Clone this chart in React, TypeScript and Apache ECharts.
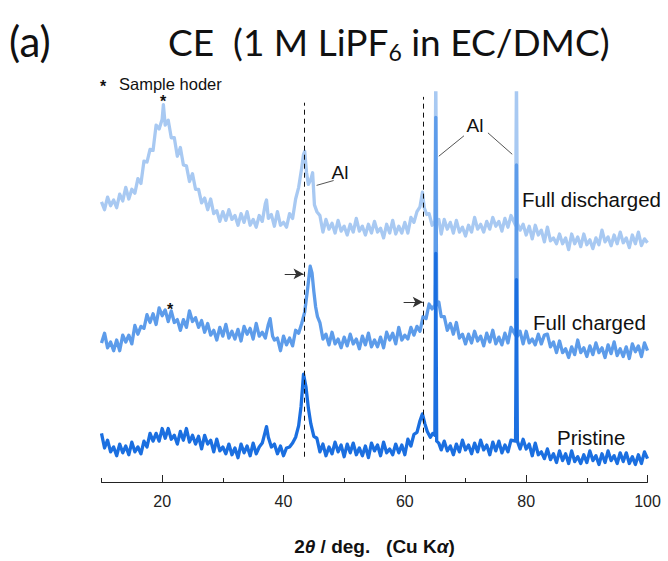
import React, { useEffect, useRef } from "react";
import * as echarts from "echarts";

// 2θ (deg) vs. intensity (arbitrary offset units, traces stacked)
const fullDischarged: [number, number][] = [
  [10, 288], [10.5, 280], [11, 293], [11.5, 284], [12, 290], [12.5, 282], [13, 296], [13.5, 289], [14, 303], [14.5, 291],
  [15, 301], [15.5, 297], [16, 312], [16.5, 307], [17, 330], [17.5, 329], [18, 342], [18.5, 341], [19, 367], [19.5, 363],
  [20, 373], [20.2, 388], [20.5, 367], [21, 372], [21.5, 354], [22, 354], [22.5, 335], [23, 344], [23.5, 326], [24, 325],
  [24.5, 309], [25, 317], [25.5, 301], [26, 301], [26.5, 287], [27, 292], [27.5, 280], [28, 291], [28.5, 276], [29, 279],
  [29.5, 268], [30, 278], [30.5, 269], [31, 280], [31.5, 270], [32, 274], [32.5, 264], [33, 276], [33.5, 267], [34, 278],
  [34.5, 264], [35, 270], [35.5, 262], [36, 274], [36.5, 268], [37, 286], [37.2, 290], [37.5, 271], [38, 275], [38.5, 263],
  [39, 278], [39.5, 264], [40, 267], [40.5, 262], [41, 276], [41.5, 271], [42, 291], [42.5, 303], [43, 323], [43.3, 337],
  [43.5, 340], [43.8, 318], [44.1, 306], [44.5, 311], [44.8, 318], [45.1, 285], [45.5, 278], [46, 274], [46.5, 257], [47, 270],
  [47.5, 260], [48, 266], [48.5, 256], [49, 269], [49.5, 258], [50, 263], [50.5, 254], [51, 265], [51.5, 257], [52, 271],
  [52.5, 258], [53, 263], [53.5, 254], [54, 265], [54.5, 256], [55, 268], [55.5, 257], [56, 261], [56.5, 251], [57, 265],
  [57.5, 256], [58, 269], [58.5, 255], [59, 263], [59.5, 256], [60, 267], [60.5, 256], [61, 272], [61.5, 267], [62, 278],
  [62.5, 283], [62.9, 298], [63.2, 282], [63.6, 275], [64, 276], [64.5, 264], [64.95, 268], [65.1, 420], [65.25, 268], [65.6, 270],
  [66, 255], [66.5, 270], [67, 260], [67.5, 267], [68, 256], [68.5, 269], [69, 257], [69.5, 262], [70, 253], [70.5, 264],
  [71, 257], [71.5, 272], [72, 260], [72.5, 265], [73, 257], [73.5, 268], [74, 260], [74.5, 272], [75, 263], [75.5, 268],
  [76, 258], [76.5, 271], [77, 262], [77.5, 274], [78.25, 264], [78.4, 420], [78.55, 266], [79, 259], [79.5, 265], [80, 254],
  [80.5, 263], [81, 250], [81.5, 264], [82, 254], [82.5, 259], [83, 247], [83.5, 262], [84, 248], [84.5, 251], [85, 245],
  [85.5, 255], [86, 245], [86.5, 251], [87, 239], [87.5, 255], [88, 245], [88.5, 252], [89, 242], [89.5, 255], [90, 244],
  [90.5, 249], [91, 240], [91.5, 251], [92, 244], [92.5, 259], [93, 247], [93.5, 252], [94, 243], [94.5, 254], [95, 245],
  [95.5, 257], [96, 246], [96.5, 251], [97, 241], [97.5, 254], [98, 245], [98.5, 257], [99, 243], [99.5, 250], [100, 246],
];

const fullCharged: [number, number][] = [
  [10, 143], [10.5, 153], [11, 138], [11.5, 144], [12, 135], [12.5, 146], [13, 135], [13.5, 151], [14, 144], [14.5, 151],
  [15, 142], [15.5, 161], [16, 152], [16.5, 160], [17, 158], [17.5, 172], [18, 164], [18.5, 173], [19, 162], [19.5, 179],
  [20, 171], [20.5, 177], [21, 165], [21.5, 176], [22, 164], [22.5, 167], [23, 156], [23.5, 167], [24, 159], [24.5, 176],
  [25, 165], [25.5, 169], [26, 159], [26.5, 166], [27, 154], [27.5, 163], [28, 151], [28.5, 156], [29, 146], [29.5, 159],
  [30, 150], [30.5, 162], [31, 148], [31.5, 155], [32, 147], [32.5, 157], [33, 145], [33.5, 160], [34, 152], [34.5, 158],
  [35, 147], [35.5, 163], [36, 150], [36.5, 154], [37, 148], [37.5, 162], [37.8, 168], [38.2, 150], [38.5, 146], [39, 148],
  [39.5, 135], [40, 150], [40.5, 141], [41, 148], [41.5, 140], [42, 156], [42.5, 153], [43, 163], [43.5, 175], [44, 200],
  [44.4, 222], [44.7, 215], [45, 196], [45.3, 180], [45.6, 170], [46, 164], [46.5, 147], [47, 152], [47.5, 141], [48, 154],
  [48.5, 142], [49, 147], [49.5, 138], [50, 149], [50.5, 140], [51, 152], [51.5, 142], [52, 147], [52.5, 137], [53, 150],
  [53.5, 141], [54, 153], [54.5, 139], [55, 146], [55.5, 139], [56, 149], [56.5, 138], [57, 154], [57.5, 146], [58, 153],
  [58.5, 142], [59, 159], [59.5, 146], [60, 151], [60.5, 147], [61, 159], [61.5, 151], [62, 160], [62.5, 155], [63, 170],
  [63.5, 168], [64, 183], [64.5, 178], [64.95, 182], [65.1, 375], [65.25, 182], [65.6, 185], [66, 170], [66.5, 170], [67, 156],
  [67.5, 163], [68, 152], [68.5, 164], [69, 148], [69.5, 152], [70, 142], [70.5, 152], [71, 143], [71.5, 155], [72, 145],
  [72.5, 150], [73, 140], [73.5, 153], [74, 144], [74.5, 156], [75, 142], [75.5, 149], [76, 141], [76.5, 153], [77, 143],
  [77.5, 159], [78.25, 151], [78.4, 326], [78.55, 150], [79, 155], [79.5, 142], [80, 155], [80.5, 143], [81, 147], [81.5, 141],
  [82, 152], [82.5, 142], [83, 151], [83.5, 152], [84, 139], [84.5, 144], [85, 133], [85.5, 145], [86, 133], [86.5, 137],
  [87, 128], [87.5, 139], [88, 131], [88.5, 146], [89, 133], [89.5, 138], [90, 129], [90.5, 140], [91, 131], [91.5, 143],
  [92, 133], [92.5, 138], [93, 128], [93.5, 141], [94, 132], [94.5, 144], [95, 130], [95.5, 137], [96, 129], [96.5, 139],
  [97, 127], [97.5, 142], [98, 134], [98.5, 140], [99, 129], [99.5, 143], [100, 135],
];

const pristine: [number, number][] = [
  [10, 50], [10.5, 35], [11, 43], [11.5, 31], [12, 36], [12.5, 27], [13, 39], [13.5, 30], [14, 37], [14.5, 28],
  [15, 41], [15.5, 31], [16, 36], [16.5, 29], [17, 42], [17.5, 36], [18, 50], [18.5, 42], [19, 50], [19.5, 42],
  [20, 55], [20.5, 45], [21, 55], [21.5, 44], [22, 48], [22.5, 39], [23, 52], [23.5, 43], [24, 55], [24.5, 41],
  [25, 48], [25.5, 39], [26, 47], [26.5, 34], [27, 48], [27.5, 39], [28, 43], [28.5, 31], [29, 44], [29.5, 32],
  [30, 36], [30.5, 29], [31, 39], [31.5, 28], [32, 35], [32.5, 25], [33, 39], [33.5, 30], [34, 37], [34.5, 27],
  [35, 40], [35.5, 29], [36, 36], [36.5, 40], [37, 52], [37.2, 57], [37.5, 46], [38, 36], [38.5, 39], [39, 29],
  [39.5, 37], [40, 27], [40.5, 35], [41, 36], [41.5, 40], [42, 46], [42.5, 58], [42.9, 78], [43.3, 111], [43.7, 98],
  [44.1, 76], [44.5, 60], [45, 47], [45.5, 45], [46, 31], [46.5, 39], [47, 27], [47.5, 36], [48, 29], [48.5, 41],
  [49, 31], [49.5, 38], [50, 26], [50.5, 39], [51, 30], [51.5, 40], [52, 28], [52.5, 35], [53, 27], [53.5, 37],
  [54, 25], [54.5, 40], [55, 32], [55.5, 38], [56, 27], [56.5, 41], [57, 30], [57.5, 34], [58, 28], [58.5, 39],
  [59, 30], [59.5, 38], [60, 28], [60.5, 44], [61, 37], [61.5, 49], [62, 51], [62.5, 63], [62.9, 70], [63.3, 60],
  [63.7, 52], [64.2, 46], [64.6, 50], [64.95, 48], [65.1, 235], [65.25, 42], [65.6, 40], [66, 33], [66.5, 42], [67, 32],
  [67.5, 37], [68, 28], [68.5, 39], [69, 31], [69.5, 43], [70, 33], [70.5, 38], [71, 29], [71.5, 40], [72, 31],
  [72.5, 43], [73, 33], [73.5, 38], [74, 28], [74.5, 41], [75, 32], [75.5, 42], [76, 30], [76.5, 38], [77, 31],
  [77.5, 43], [78.25, 42], [78.4, 208], [78.55, 42], [79, 34], [79.5, 44], [80, 34], [80.5, 39], [81, 27], [81.5, 40],
  [82, 28], [82.5, 31], [83, 24], [83.5, 34], [84, 23], [84.5, 29], [85, 20], [85.5, 32], [86, 22], [86.5, 29],
  [87, 19], [87.5, 32], [88, 21], [88.5, 26], [89, 19], [89.5, 28], [90, 20], [90.5, 32], [91, 22], [91.5, 27],
  [92, 18], [92.5, 29], [93, 20], [93.5, 32], [94, 22], [94.5, 27], [95, 19], [95.5, 30], [96, 21], [96.5, 30],
  [97, 19], [97.5, 26], [98, 18], [98.5, 28], [99, 19], [99.5, 31], [100, 24],
];

const majorTicks = [20, 40, 60, 80, 100];
const minorTicks = [10, 30, 50, 70, 90];

// dashed reference lines: [2θ, y from, y to]
const dashedLines: [number, number, number][] = [
  [43.47, 26, 390],
  [63.1, 23, 396],
];
// shift arrows: [x from, x to, y]
const shiftArrows: [number, number, number][] = [
  [40.2, 43.3, 214],
  [59.8, 62.95, 185],
];
// "Al" leader lines: [x1, y1, x2, y2]
const alLeaders: [number, number, number, number][] = [
  [45.45, 305, 48.26, 310],
  [65.6, 335, 69.75, 356],
  [73.7, 359, 77.7, 337],
];

const COLORS = ["#a8c9f2", "#5d9cea", "#1b6fe0"];

export default function App() {
  const ref = useRef<HTMLDivElement>(null);

  useEffect(() => {
    if (!ref.current) return;
    const chart = echarts.init(ref.current, null, { renderer: "svg" });
    const baseFont = "Liberation Sans, Arial, sans-serif";

    const mkSeries = (name: string, data: [number, number][], color: string, extra: any = {}) => ({
      name,
      type: "line",
      data,
      showSymbol: false,
      symbol: "none",
      clip: true,
      lineStyle: { color, width: 3.3, join: "round" },
      itemStyle: { color },
      ...extra,
    });

    const markLineData: any[] = [];
    dashedLines.forEach(([x, y0, y1]) => {
      markLineData.push([
        { coord: [x, y0], symbol: "none", lineStyle: { type: [5, 4], color: "#111", width: 1 } },
        { coord: [x, y1], symbol: "none" },
      ]);
    });
    shiftArrows.forEach(([x0, x1, y]) => {
      markLineData.push([
        { coord: [x0, y], symbol: "none", lineStyle: { type: "solid", color: "#333", width: 1 } },
        { coord: [x1, y], symbol: "arrow", symbolSize: [8, 10] },
      ]);
    });
    alLeaders.forEach(([x0, y0, x1, y1]) => {
      markLineData.push([
        { coord: [x0, y0], symbol: "none", lineStyle: { type: "solid", color: "#555", width: 1 } },
        { coord: [x1, y1], symbol: "none" },
      ]);
    });

    const option: any = {
      animation: false,
      backgroundColor: "#ffffff",
      grid: { left: 101.5, right: 20.5, top: 93, bottom: 68, containLabel: false },
      xAxis: [
        {
          type: "value",
          min: 10,
          max: 100,
          interval: 10,
          splitLine: { show: false },
          axisLine: { show: true, lineStyle: { color: "#222", width: 1 } },
          axisTick: { show: true, inside: true, length: 7, lineStyle: { color: "#222", width: 1 }, customValues: majorTicks },
          axisLabel: {
            customValues: majorTicks,
            margin: 11,
            fontFamily: baseFont,
            fontSize: 16,
            color: "#222",
          },
          name: "{b|2}{i|θ}{b| / deg.   (Cu K}{i|α}{b|)}",
          nameLocation: "middle",
          nameGap: 55,
          nameTextStyle: {
            rich: {
              b: { fontFamily: baseFont, fontSize: 19, fontWeight: "bold", color: "#111" },
              i: { fontFamily: baseFont, fontSize: 19, fontWeight: "bold", fontStyle: "italic", color: "#111" },
            },
          },
        },
        {
          type: "value",
          min: 10,
          max: 100,
          interval: 10,
          position: "bottom",
          splitLine: { show: false },
          axisLine: { show: false },
          axisTick: { show: true, inside: true, length: 4, lineStyle: { color: "#222", width: 1 }, customValues: minorTicks },
          axisLabel: { show: false },
        },
      ],
      yAxis: { type: "value", min: 0, max: 400, show: false, splitLine: { show: false } },
      series: [
        mkSeries("Full discharged", fullDischarged, COLORS[0]),
        mkSeries("Full charged", fullCharged, COLORS[1]),
        mkSeries("Pristine", pristine, COLORS[2], {
          markLine: { silent: true, animation: false, label: { show: false }, data: markLineData },
        }),
      ],
      graphic: [
        { type: "text", x: 9, y: 41, style: { text: "(a)", font: "42px Lato, 'Open Sans', sans-serif", fill: "#111", verticalAlign: "middle", align: "left" } },
        {
          type: "text",
          x: 168,
          y: 41,
          style: {
            text: "{m|CE  (1 M LiPF}{s|6}{m| in EC/DMC)}",
            verticalAlign: "middle",
            align: "left",
            rich: {
              m: { fontFamily: "Lato, 'Open Sans', sans-serif", fontSize: 37, lineHeight: 44, fill: "#111", color: "#111" },
              s: { fontFamily: "Lato, 'Open Sans', sans-serif", fontSize: 23, lineHeight: 24, verticalAlign: "bottom", fill: "#111", color: "#111" },
            },
          },
        },
        { type: "text", x: 103, y: 86, style: { text: "*", font: "bold 16px " + baseFont, fill: "#111", verticalAlign: "middle", align: "center" } },
        { type: "text", x: 119, y: 84, style: { text: "Sample hoder", font: "16.5px " + baseFont, fill: "#111", verticalAlign: "middle", align: "left" } },
        { type: "text", x: 163, y: 101, style: { text: "*", font: "bold 16px " + baseFont, fill: "#111", verticalAlign: "middle", align: "center" } },
        { type: "text", x: 170, y: 309, style: { text: "*", font: "bold 16px " + baseFont, fill: "#111", verticalAlign: "middle", align: "center" } },
        { type: "text", x: 340, y: 172, style: { text: "Al", font: "19px " + baseFont, fill: "#111", verticalAlign: "middle", align: "center" } },
        { type: "text", x: 475, y: 125, style: { text: "Al", font: "19px " + baseFont, fill: "#111", verticalAlign: "middle", align: "center" } },
        { type: "text", x: 522, y: 199, style: { text: "Full discharged", font: "20.5px " + baseFont, fill: "#111", verticalAlign: "middle", align: "left" } },
        { type: "text", x: 533, y: 322, style: { text: "Full charged", font: "20.5px " + baseFont, fill: "#111", verticalAlign: "middle", align: "left" } },
        { type: "text", x: 557, y: 437, style: { text: "Pristine", font: "20.5px " + baseFont, fill: "#111", verticalAlign: "middle", align: "left" } },
      ],
    };

    chart.setOption(option);
    return () => chart.dispose();
  }, []);

  return (
    <div
      ref={ref}
      style={{ position: "absolute", left: 0, top: 0, width: 668, height: 561, background: "#fff" }}
    />
  );
}
